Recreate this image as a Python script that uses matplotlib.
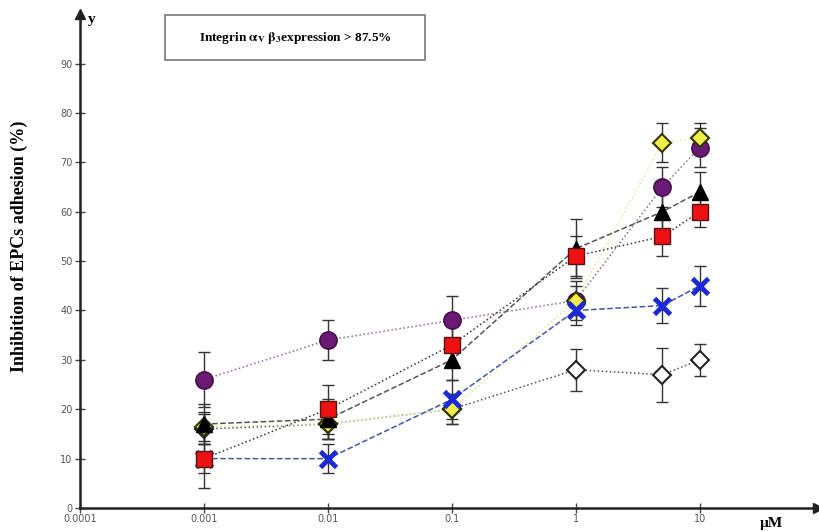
import matplotlib
matplotlib.use("Agg")
import matplotlib.pyplot as plt
from matplotlib.patches import Rectangle
import numpy as np

# ---- data ----
conc = [0.001, 0.01, 0.1, 1, 5, 10]

purple_vals = [26, 34, 38, 42, 65, 73]
purple_err = [5.5, 4, 5, 4, 4, 4]

yellow_vals = [16.5, 17, 20, 42, 74, 75]
yellow_err = [3, 3, 3, 3, 4, 3]

triangle_vals = [17, 18, 30, 52.5, 60, 64]
triangle_err = [4, 4, 4, 6, 4, 4]

red_vals = [10, 20, 33, 51, 55, 60]
red_err = [6, 5, 4, 4, 4, 3]

blue_vals = [10, 10, 22, 40, 41, 45]
blue_err = [3, 3, 4, 3, 3.5, 4]

white_vals = [16, 17, 20, 28, 27, 30]
white_err = [3, 3, 3, 4.3, 5.5, 3.2]

yticks = [0, 10, 20, 30, 40, 50, 60, 70, 80, 90]
xticks = [0.0001, 0.001, 0.01, 0.1, 1, 10]
xticklabels = ["0.0001", "0.001", "0.01", "0.1", "1", "10"]

plt.rcParams["mathtext.fontset"] = "stix"

W, H = 820, 531
fig = plt.figure(figsize=(8.2, 5.31), dpi=100)
ax = fig.add_axes([0.0976, 0.0433, 0.9, 0.930])
ax.set_xscale("log")
ax.set_xlim(1e-4, 90)
ax.set_ylim(0, 100)

series = [
    (white_vals, white_err, dict(marker="D", ms=9, mfc="white", mec="#222222", mew=1.5), "#555555", ":"),
    (purple_vals, purple_err, dict(marker="o", ms=12.5, mfc="#6a1a72", mec="#3a0a40", mew=1), "#8a6a90", ":"),
    (yellow_vals, yellow_err, dict(marker="D", ms=9, mfc="#f0ef4a", mec="#333300", mew=1.5), "#e8e890", ":"),
    (triangle_vals, triangle_err, dict(marker="^", ms=12, mfc="black", mec="black", mew=1), "#555555", "--"),
    (blue_vals, blue_err, dict(marker="x", ms=12, mec="#1a2ad6", mew=3.5), "#4455aa", "--"),
    (red_vals, red_err, dict(marker="s", ms=11.5, mfc="#ee1111", mec="#551111", mew=1), "#333333", ":"),
]

for i, (vals, err, mk, lc, ls) in enumerate(series):
    ax.plot(conc, vals, linestyle=ls, color=lc, lw=1.1, zorder=2)
    ax.errorbar(conc, vals, yerr=err, fmt="none", ecolor="#333333", elinewidth=1,
                capsize=4, capthick=1, zorder=3)
    ax.plot(conc, vals, linestyle="none", zorder=4 + i * 0.1, **mk)

# axes styling
for s in ["top", "right"]:
    ax.spines[s].set_visible(False)
for s in ["left", "bottom"]:
    ax.spines[s].set_linewidth(1.8)
    ax.spines[s].set_color("#222222")

ax.set_yticks(yticks)
ax.set_yticklabels([str(v) for v in yticks])
ax.set_xticks(xticks)
ax.set_xticklabels(xticklabels)
ax.xaxis.set_minor_locator(matplotlib.ticker.NullLocator())
ax.tick_params(axis="both", direction="inout", length=7, width=1, color="#444444",
               labelsize=7, labelcolor="#555555")
ax.tick_params(axis="y", pad=2)
ax.tick_params(axis="x", pad=1)

# arrows at the end of axes
ax.plot([0], [1.0], marker="^", ms=7, color="#222222", transform=ax.transAxes, clip_on=False)
ax.plot([1.0], [0], marker=">", ms=7, color="#222222", transform=ax.transAxes, clip_on=False)

ax.set_ylabel("Inhibition of EPCs adhesion (%)", family="Liberation Serif", fontweight="bold",
              fontsize=13)
ax.yaxis.set_label_coords(-0.071, 0.53)
fig.text(88 / W, 1 - 20 / H, "y", family="Liberation Serif", fontweight="bold", fontsize=11,
         va="center", ha="left")
fig.text(760 / W, 1 - 523 / H, "µM", family="Liberation Serif", fontweight="bold", fontsize=11,
         va="center", ha="left")

# annotation box
bx0, bx1, by0, by1 = 165, 425, 15, 60
fig.patches.append(Rectangle((bx0 / W, 1 - by1 / H), (bx1 - bx0) / W, (by1 - by0) / H,
                             transform=fig.transFigure, fc="white", ec="#777777", lw=1.2))
fig.text((bx0 + bx1) / 2 / W, 1 - (by0 + by1) / 2 / H,
         r"Integrin $\mathbf{\alpha_V\ \beta_3}$expression > 87.5%",
         family="Liberation Serif", fontweight="bold", fontsize=9.5, ha="center", va="center")

fig.savefig("out.png", dpi=100)
